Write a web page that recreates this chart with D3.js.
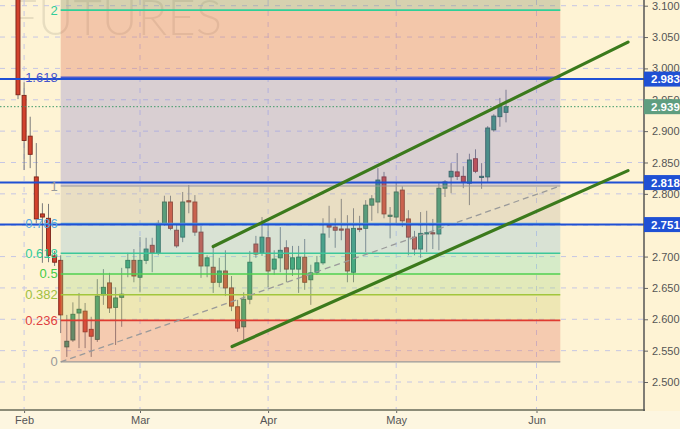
<!DOCTYPE html>
<html><head><meta charset="utf-8">
<script src="https://cdn.jsdelivr.net/npm/d3@7"></script>
<style>body{margin:0;background:#fef3d4;} svg{display:block;font-family:"Liberation Sans",Arial,sans-serif;}</style>
</head><body><svg id="c" width="680" height="429"></svg>
<script>
// ---- data (one candle per trading day, index = position) ----
const opens  = [3.25,2.957,2.892,2.827,2.768,2.761,2.701,2.694,2.556,2.567,2.610,2.613,2.584,2.568,2.639,2.658,2.619,2.635,2.682,2.694,2.667,2.694,2.718,2.706,2.752,2.787,2.742,2.731,2.789,2.787,2.739,2.685,2.683,2.659,2.677,2.650,2.620,2.588,2.632,2.720,2.706,2.730,2.680,2.698,2.714,2.680,2.680,2.699,2.663,2.675,2.690,2.750,2.747,2.744,2.744,2.675,2.745,2.745,2.782,2.787,2.827,2.765,2.763,2.806,2.760,2.731,2.712,2.737,2.738,2.736,2.809,2.827,2.835,2.828,2.817,2.856,2.827,2.827,2.902,2.923,2.930];
const highs  = [3.28,2.978,2.923,2.881,2.785,2.784,2.709,2.702,2.607,2.627,2.642,2.626,2.604,2.664,2.680,2.674,2.651,2.682,2.706,2.712,2.731,2.730,2.730,2.758,2.797,2.797,2.753,2.803,2.814,2.798,2.749,2.702,2.715,2.698,2.710,2.669,2.631,2.643,2.709,2.733,2.763,2.753,2.710,2.747,2.726,2.717,2.717,2.728,2.687,2.701,2.761,2.781,2.761,2.792,2.766,2.777,2.765,2.790,2.798,2.841,2.835,2.779,2.819,2.812,2.774,2.741,2.771,2.773,2.760,2.817,2.822,2.849,2.865,2.844,2.864,2.871,2.849,2.908,2.927,2.953,2.966];
const lows   = [2.951,2.838,2.841,2.753,2.690,2.691,2.685,2.578,2.540,2.564,2.554,2.554,2.540,2.564,2.623,2.610,2.559,2.588,2.667,2.659,2.643,2.688,2.675,2.702,2.749,2.742,2.714,2.723,2.769,2.733,2.666,2.667,2.642,2.651,2.637,2.613,2.580,2.565,2.624,2.698,2.701,2.651,2.671,2.675,2.659,2.669,2.642,2.647,2.623,2.671,2.687,2.730,2.714,2.726,2.659,2.659,2.739,2.707,2.757,2.769,2.761,2.729,2.753,2.747,2.702,2.702,2.698,2.707,2.712,2.710,2.795,2.801,2.822,2.809,2.782,2.833,2.808,2.819,2.899,2.907,2.914];
const closes = [2.958,2.885,2.863,2.760,2.763,2.702,2.691,2.607,2.565,2.608,2.616,2.580,2.573,2.637,2.651,2.618,2.634,2.640,2.694,2.669,2.694,2.712,2.706,2.753,2.787,2.745,2.717,2.787,2.788,2.739,2.685,2.698,2.659,2.677,2.650,2.621,2.586,2.632,2.691,2.704,2.731,2.677,2.696,2.710,2.680,2.698,2.699,2.659,2.674,2.690,2.736,2.747,2.742,2.743,2.677,2.745,2.743,2.782,2.792,2.822,2.768,2.766,2.803,2.757,2.731,2.712,2.737,2.738,2.737,2.809,2.819,2.836,2.828,2.819,2.854,2.836,2.828,2.905,2.924,2.940,2.939];

const monthLabels = ["Feb","Mar","Apr","May","Jun"];
const monthIndex  = [1,20,41,62,85];
const priceTicks  = [2.5,2.55,2.6,2.65,2.7,2.75,2.8,2.85,2.9,2.95,3.0,3.05,3.1];

const fibLevels = [0,0.236,0.382,0.5,0.618,0.786,1,1.618,2];
const fibLabels = ["0","0.236","0.382","0.5","0.618","0.786","1","1.618","2"];
const fibLow = 2.532, fibHigh = 2.8125, fibStartIdx = 7, fibEndIdx = 88.9;

const keyLevels = [2.983, 2.818, 2.751];
const lastPrice = 2.939;
const channelUpper = [[32,2.716],[100,3.042]];
const channelLower = [[35.1,2.5565],[100,2.837]];

// ---- styles ----
const fibLineColors = ["#9a9a9a","#e03a30","#a2c63c","#4fd04f","#3cc79a","#5aa6e0","#9a9a9a","#4a5ad0","#2fcf98"];
const fibLabelColors= ["#9a9a9a","#e04040","#a0c040","#44cc44","#33cc99","#55a8e0","#9a9a9a","#4455cc","#33cc99"];
const zoneColors = ["#e0715c","#c9ce69","#a1d57d","#79dcac","#86bed4","#bbb09b","#867ece","#d96448","#7c8559"];

const W = 680, H = 429, plotR = 644, plotB = 410;
const svg = d3.select("#c");
const x = d3.scaleLinear().domain([0,100]).range([18,628]);
const y = d3.scaleLinear().domain([2.5,3.1]).range([382,5.7]);

svg.append("rect").attr("width",W).attr("height",H).attr("fill","#fef3d4");
svg.append("rect").attr("y",plotB+1).attr("width",W).attr("height",H-plotB-1).attr("fill","#fdf6e0");

svg.append("defs").append("clipPath").attr("id","clip")
  .append("rect").attr("x",0).attr("y",0).attr("width",plotR).attr("height",plotB);

// watermark
svg.append("text").attr("x",10).attr("y",35).text("FUTURES")
  .attr("font-family","Lato, 'Open Sans', sans-serif").attr("font-weight",300)
  .attr("font-size",49).attr("textLength",212).attr("lengthAdjust","spacingAndGlyphs")
  .attr("fill","#000").attr("fill-opacity",0.09);

const plot = svg.append("g").attr("clip-path","url(#clip)");

// grid
plot.selectAll(".gh").data(priceTicks).join("line")
  .attr("x1",0).attr("x2",plotR).attr("y1",d=>y(d)).attr("y2",d=>y(d))
  .attr("stroke","#c6c6e4").attr("stroke-dasharray","5,6");
plot.selectAll(".gv").data(monthIndex).join("line")
  .attr("x1",d=>x(d)).attr("x2",d=>x(d)).attr("y1",0).attr("y2",plotB)
  .attr("stroke","#c6c6e4").attr("stroke-dasharray","5,6");

const fibPrice = l => fibLow + (fibHigh-fibLow)*l;

// fib labels
svg.selectAll(".fl").data(fibLevels).join("text")
  .attr("x",x(fibStartIdx)-3).attr("y",d=>y(fibPrice(d)))
  .attr("text-anchor","end").attr("dominant-baseline","central")
  .attr("font-size",13).attr("fill",(d,i)=>fibLabelColors[i])
  .text((d,i)=>fibLabels[i]);

// candles
const idx = d3.range(closes.length);
const up = i => closes[i] >= opens[i];
const cg = plot.append("g");
cg.selectAll(".wick").data(idx).join("line")
  .attr("x1",i=>x(i)).attr("x2",i=>x(i)).attr("y1",i=>y(highs[i])).attr("y2",i=>y(lows[i]))
  .attr("stroke","#7a7a7a").attr("stroke-width",1);
cg.selectAll(".body").data(idx).join("rect")
  .attr("x",i=>x(i)-2).attr("width",4)
  .attr("y",i=>y(Math.max(opens[i],closes[i])))
  .attr("height",i=>Math.max(1.2, Math.abs(y(opens[i])-y(closes[i]))))
  .attr("fill",i=>up(i)?"#32966e":"#d2412d")
  .attr("stroke",i=>up(i)?"#1d5a42":"#7d2418").attr("stroke-width",0.9);

// fib zones overlay
const zones = fibLevels.map((l,i)=>[l, i<fibLevels.length-1 ? fibLevels[i+1] : 2.618]);
plot.selectAll(".zone").data(zones).join("rect")
  .attr("x",x(fibStartIdx)).attr("width",x(fibEndIdx)-x(fibStartIdx))
  .attr("y",d=>y(fibPrice(d[1]))).attr("height",d=>y(fibPrice(d[0]))-y(fibPrice(d[1])))
  .attr("fill",(d,i)=>zoneColors[i]).attr("fill-opacity",0.3);

// fib lines
plot.selectAll(".fline").data(fibLevels).join("line")
  .attr("x1",x(fibStartIdx)).attr("x2",x(fibEndIdx))
  .attr("y1",d=>y(fibPrice(d))).attr("y2",d=>y(fibPrice(d)))
  .attr("stroke",(d,i)=>fibLineColors[i]).attr("stroke-width",(d,i)=>[0,6].includes(i)?1.2:1.6);

// diagonal
plot.append("line")
  .attr("x1",x(fibStartIdx)).attr("y1",y(fibLow)).attr("x2",x(fibEndIdx)).attr("y2",y(fibHigh))
  .attr("stroke","#9a9a9a").attr("stroke-width",1.3).attr("stroke-dasharray","6,4");

// key levels
plot.selectAll(".kl").data(keyLevels).join("line")
  .attr("x1",0).attr("x2",plotR).attr("y1",d=>y(d)).attr("y2",d=>y(d))
  .attr("stroke","#1f50d4").attr("stroke-width",2);
plot.append("line").attr("x1",0).attr("x2",plotR).attr("y1",y(lastPrice)).attr("y2",y(lastPrice))
  .attr("stroke","#3f9a6a").attr("stroke-width",1).attr("stroke-dasharray","1.5,2");

// channel lines
const ln = d3.line().x(d=>x(d[0])).y(d=>y(d[1]));
[channelUpper, channelLower].forEach(c=>{
  svg.append("path").attr("d",ln(c)).attr("stroke","#3b7a1c").attr("stroke-width",3.2)
    .attr("fill","none").attr("stroke-linecap","round");
});

// axes
const ya = svg.append("g").attr("transform",`translate(${plotR},0)`)
  .call(d3.axisRight(y).tickValues(priceTicks).tickFormat(d3.format(".3f")).tickSize(4).tickPadding(4));
ya.select(".domain").remove();
ya.selectAll("text").attr("font-size",11).attr("fill","#555").attr("font-family","'Liberation Sans',Arial,sans-serif");
ya.selectAll("line").attr("stroke","#666");

const xa = svg.append("g").attr("transform",`translate(0,${plotB})`)
  .call(d3.axisBottom(x).tickValues(monthIndex).tickFormat((d,i)=>monthLabels[i]).tickSize(3).tickPadding(3));
xa.select(".domain").remove();
xa.selectAll("text").attr("font-size",11).attr("fill","#555").attr("font-family","'Liberation Sans',Arial,sans-serif");
xa.selectAll("line").attr("stroke","#666");

svg.append("line").attr("x1",0).attr("x2",plotR+1).attr("y1",plotB).attr("y2",plotB)
  .attr("stroke","#8c8c78").attr("stroke-width",2);
svg.append("line").attr("x1",plotR).attr("x2",plotR).attr("y1",0).attr("y2",plotB+1)
  .attr("stroke","#555").attr("stroke-width",1.5);

// price label boxes
const boxes = keyLevels.map(v=>({v, c:"#1f50d4"})).concat([{v:lastPrice, c:"#5f9e80"}]);
const bg = svg.selectAll(".box").data(boxes).join("g");
bg.append("rect").attr("x",plotR).attr("width",W-plotR).attr("y",d=>y(d.v)-7.5).attr("height",15)
  .attr("fill",d=>d.c);
bg.append("text").attr("x",plotR+7).attr("y",d=>y(d.v)).attr("dominant-baseline","central")
  .attr("font-size",11.5).attr("font-weight","bold").attr("fill","#fff")
  .text(d=>d3.format(".3f")(d.v));
</script></body></html>
